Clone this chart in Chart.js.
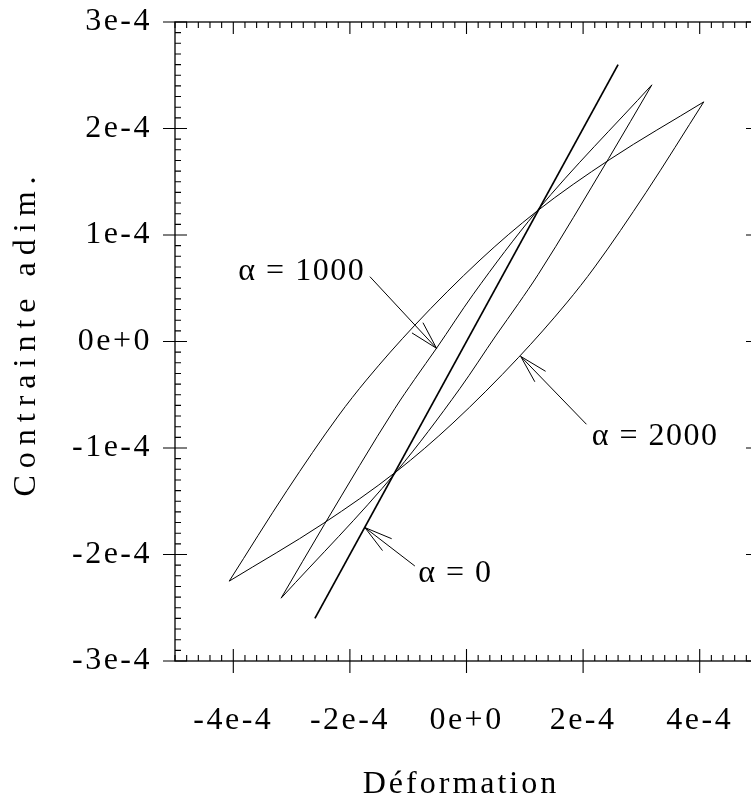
<!DOCTYPE html>
<html><head><meta charset="utf-8">
<script src="https://cdn.jsdelivr.net/npm/chart.js@4/dist/chart.umd.min.js"></script>
<style>
html,body{margin:0;padding:0;background:#fff;overflow:hidden}
#wrap{width:751px;height:809px;overflow:hidden;position:relative;background:#fff}
canvas{display:block}
</style>
</head><body><div id="wrap"><canvas id="c" width="770" height="809"></canvas></div>
<script>
// ---- data (values in strain / stress units) ----
const xTickValues = [-4e-4, -2e-4, 0, 2e-4, 4e-4];
const xTickLabels = ['-4e-4', '-2e-4', '0e+0', '2e-4', '4e-4'];
const yTickValues = [-3e-4, -2e-4, -1e-4, 0, 1e-4, 2e-4, 3e-4];
const yTickLabels = ['-3e-4', '-2e-4', '-1e-4', '0e+0', '1e-4', '2e-4', '3e-4'];

// alpha = 0 : straight line
const alpha0X = [-2.6e-4, 2.6e-4];
const alpha0Y = [-2.6e-4, 2.6e-4];

// alpha = 1000 : loading branch (bottom tip -> top tip)
const alpha1000UpX = [-3.18e-4, -2.44e-4, -1.23e-4, -0.89e-4, -0.51e-4, 0.115e-4, 1.2e-4, 3.18e-4];
const alpha1000UpY = [-2.41e-4, -1.72e-4, -0.63e-4, -0.355e-4, -0.06e-4, 0.443e-4, 1.22e-4, 2.41e-4];
// alpha = 1000 : unloading branch (top tip -> bottom tip)
const alpha1000DnX = [3.18e-4, 2.44e-4, 1.23e-4, 0.89e-4, 0.51e-4, -0.115e-4, -1.2e-4, -3.18e-4];
const alpha1000DnY = [2.41e-4, 1.72e-4, 0.63e-4, 0.355e-4, 0.06e-4, -0.443e-4, -1.22e-4, -2.41e-4];

// alpha = 2000 : loading branch
const alpha2000UpX = [-4.07e-4, -3.08e-4, -2.2e-4, -1.717e-4, -0.895e-4, 0.232e-4, 1.2e-4, 2.46e-4, 4.07e-4];
const alpha2000UpY = [-2.25e-4, -1.40e-4, -0.70e-4, -0.362e-4, 0.148e-4, 0.765e-4, 1.22e-4, 1.71e-4, 2.25e-4];
// alpha = 2000 : unloading branch
const alpha2000DnX = [4.07e-4, 3.08e-4, 2.2e-4, 1.717e-4, 0.895e-4, -0.232e-4, -1.2e-4, -2.46e-4, -4.07e-4];
const alpha2000DnY = [2.25e-4, 1.40e-4, 0.70e-4, 0.362e-4, -0.148e-4, -0.765e-4, -1.22e-4, -1.71e-4, -2.25e-4];

// annotations: label text, label anchor (data), arrow tail and tip (data)
const annLabels = ['α = 1000', 'α = 2000', 'α = 0'];
const annTextX = [-3.914e-4, 2.147e-4, -0.827e-4];
const annTextY = [0.577e-4, -0.972e-4, -2.261e-4];
const annTailX = [-1.657e-4, 2.057e-4, -0.886e-4];
const annTailY = [0.609e-4, -0.777e-4, -2.108e-4];
const annTipX = [-0.514e-4, 0.93e-4, -1.743e-4];
const annTipY = [-0.064e-4, -0.14e-4, -1.747e-4];

const xTitle = 'Déformation';
const yTitle = 'Contrainte adim.';

// ---- helpers ----
const pts = (xs, ys) => xs.map((x, i) => ({x, y: ys[i]}));
const FONT = '"Liberation Serif", "Times New Roman", serif';

const framePlugin = {
  id: 'framePlugin',
  beforeDraw(chart) { chart.ctx.letterSpacing = '2.5px'; },
  afterDraw(chart) {
    const {ctx, chartArea: a, scales: {x, y}} = chart;
    ctx.save();
    ctx.letterSpacing = '0px';
    ctx.strokeStyle = '#000';
    ctx.lineWidth = 1.3;
    ctx.strokeRect(a.left, a.top, a.right - a.left, a.bottom - a.top);
    ctx.lineWidth = 1.1;
    ctx.beginPath();
    for (let i = -25; i <= 25; i++) {
      const px = x.getPixelForValue(i * 2e-5);
      if (i % 10 === 0) {
        ctx.moveTo(px, a.bottom - 12); ctx.lineTo(px, a.bottom + 12);
        ctx.moveTo(px, a.top); ctx.lineTo(px, a.top + 12);
      } else {
        ctx.moveTo(px, a.bottom - 6); ctx.lineTo(px, a.bottom);
        ctx.moveTo(px, a.top); ctx.lineTo(px, a.top + 6);
      }
    }
    for (let i = -30; i <= 30; i++) {
      const py = y.getPixelForValue(i * 1e-5);
      if (i % 10 === 0) {
        ctx.moveTo(a.left - 12, py); ctx.lineTo(a.left + 12, py);
        ctx.moveTo(a.right - 12, py); ctx.lineTo(a.right, py);
      } else {
        ctx.moveTo(a.left, py); ctx.lineTo(a.left + 6, py);
        ctx.moveTo(a.right - 6, py); ctx.lineTo(a.right, py);
      }
    }
    ctx.stroke();

    ctx.fillStyle = '#000';
    ctx.font = '32px ' + FONT;
    ctx.letterSpacing = '1.5px';
    ctx.textAlign = 'left';
    ctx.textBaseline = 'alphabetic';
    ctx.lineWidth = 1;
    annLabels.forEach((t, i) => {
      ctx.fillText(t, x.getPixelForValue(annTextX[i]), y.getPixelForValue(annTextY[i]));
      const tx = x.getPixelForValue(annTailX[i]), ty = y.getPixelForValue(annTailY[i]);
      const hx = x.getPixelForValue(annTipX[i]), hy = y.getPixelForValue(annTipY[i]);
      const ang = Math.atan2(ty - hy, tx - hx);
      const L = 29, da = 15 * Math.PI / 180;
      ctx.beginPath();
      ctx.moveTo(tx, ty); ctx.lineTo(hx, hy);
      ctx.moveTo(hx + L * Math.cos(ang + da), hy + L * Math.sin(ang + da)); ctx.lineTo(hx, hy);
      ctx.lineTo(hx + L * Math.cos(ang - da), hy + L * Math.sin(ang - da));
      ctx.stroke();
    });

    ctx.font = '32px ' + FONT;
    ctx.letterSpacing = '3px';
    ctx.textAlign = 'center';
    ctx.textBaseline = 'middle';
    ctx.fillText(xTitle, 461, 785);
    ctx.translate(27, 333);
    ctx.rotate(-Math.PI / 2);
    ctx.letterSpacing = '7px';
    ctx.fillText(yTitle, 0, 0);
    ctx.restore();
  }
};

const lineDs = (label, data, w, curved) => ({
  label, data, showLine: true, borderColor: '#000', backgroundColor: '#000',
  borderWidth: w, pointRadius: 0, fill: false,
  cubicInterpolationMode: curved ? 'monotone' : 'default', tension: 0
});

new Chart(document.getElementById('c'), {
  type: 'scatter',
  data: {
    datasets: [
      lineDs('α = 0', pts(alpha0X, alpha0Y), 1.7, false),
      lineDs('α = 1000 (charge)', pts(alpha1000UpX, alpha1000UpY), 1, true),
      lineDs('α = 1000 (décharge)', pts(alpha1000DnX, alpha1000DnY), 1, true),
      lineDs('α = 2000 (charge)', pts(alpha2000UpX, alpha2000UpY), 1, true),
      lineDs('α = 2000 (décharge)', pts(alpha2000DnX, alpha2000DnY), 1, true)
    ]
  },
  options: {
    responsive: false,
    animation: false,
    devicePixelRatio: 1,
    layout: {padding: {left: 0, right: 12, top: 22, bottom: 0}},
    plugins: {legend: {display: false}, tooltip: {enabled: false}, title: {display: false}},
    scales: {
      x: {
        type: 'linear', min: -5e-4, max: 5e-4,
        afterBuildTicks: s => { s.ticks = xTickValues.map(v => ({value: v})); },
        afterFit: s => { s.height = 148; s.paddingLeft = 0; s.paddingRight = 0; },
        grid: {display: false, drawTicks: false},
        border: {display: false},
        ticks: {
          autoSkip: false, maxRotation: 0, padding: 40, color: '#000',
          font: {family: FONT, size: 32},
          callback: (v, i) => xTickLabels[i]
        }
      },
      y: {
        type: 'linear', min: -3e-4, max: 3e-4,
        afterBuildTicks: s => { s.ticks = yTickValues.map(v => ({value: v})); },
        afterFit: s => { s.width = 175; s.paddingTop = 0; s.paddingBottom = 0; },
        grid: {display: false, drawTicks: false},
        border: {display: false},
        ticks: {
          autoSkip: false, padding: 23, color: '#000',
          font: {family: FONT, size: 32},
          callback: (v, i) => yTickLabels[i]
        }
      }
    }
  },
  plugins: [framePlugin]
});
</script>
</body></html>
